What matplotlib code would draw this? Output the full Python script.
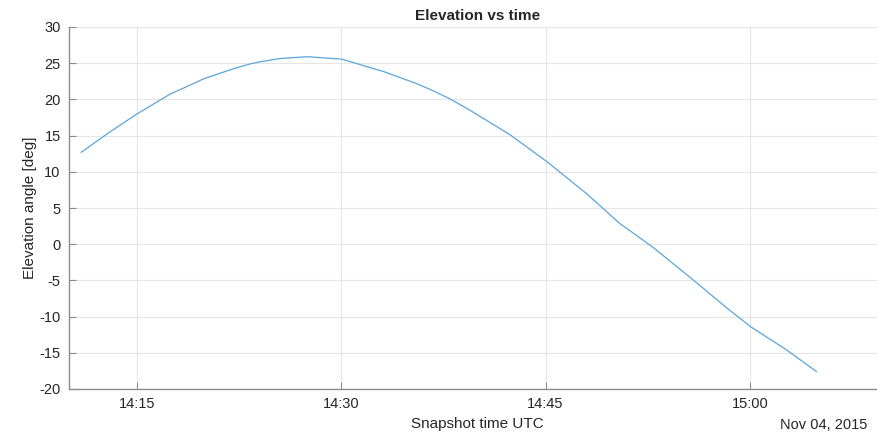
import datetime as dt
import matplotlib
matplotlib.use("Agg")
import matplotlib.pyplot as plt
import matplotlib.dates as mdates

# Elevation readings (minutes after 14:00 UTC, elevation in degrees)
minutes = [10.9, 13.0, 15.0, 17.4, 19.9, 22.1, 23.3, 24.05, 25.5, 27.5,
           30.05, 33.1, 35.5, 36.5, 38.0, 39.45, 42.4, 45.1, 48.0, 50.45,
           51.2, 52.9, 55.85, 58.5, 60.1, 62.7, 64.9]
elevation = [12.7, 15.5, 18.0, 20.7, 22.85, 24.25, 24.9, 25.2, 25.65, 25.9,
             25.55, 23.85, 22.2, 21.4, 20.05, 18.5, 15.1, 11.4, 7.0, 2.85,
             1.85, -0.45, -4.95, -9.1, -11.45, -14.6, -17.6]
y_ticks = list(range(-20, 31, 5))

base = dt.datetime(2015, 11, 4, 14, 0)
times = [base + dt.timedelta(minutes=m) for m in minutes]

plt.rcParams['font.family'] = ['Liberation Sans', 'DejaVu Sans']
plt.rcParams['axes.unicode_minus'] = False
txt = '#262626'

fig = plt.figure(figsize=(8.77, 4.33), dpi=100)
ax = fig.add_axes([69 / 877, 44 / 433, 817 / 877, 362 / 433])

ax.plot(times, elevation, color='#5aa5dc', linewidth=0.9)

ax.set_xlim(base + dt.timedelta(minutes=10), base + dt.timedelta(minutes=70))
ax.set_ylim(-20, 30)
ax.set_yticks(y_ticks)
ax.set_xticks([base + dt.timedelta(minutes=m) for m in (15, 30, 45, 60)])
ax.xaxis.set_major_formatter(mdates.DateFormatter('%H:%M'))

ax.grid(True, color='#e6e6e6', linewidth=0.8)
ax.set_axisbelow(True)
for side in ('top', 'right'):
    ax.spines[side].set_visible(False)
for side in ('left', 'bottom'):
    ax.spines[side].set_color('#8c8c8c')
    ax.spines[side].set_linewidth(1.0)
ax.tick_params(direction='in', length=5, color='#8c8c8c', labelsize=10.5,
               labelcolor=txt, pad=6)

ax.set_title('Elevation vs time', fontsize=11, fontweight='bold', color=txt, pad=5)
ax.set_xlabel('Snapshot time UTC', fontsize=11, color=txt, labelpad=4)
ax.set_ylabel('Elevation angle [deg]', fontsize=11, color=txt, labelpad=2)

fig.text(867 / 877, 1 - 425 / 433, 'Nov 04, 2015', ha='right', va='center',
         fontsize=10.5, color=txt)

fig.savefig('out.png', dpi=100)
